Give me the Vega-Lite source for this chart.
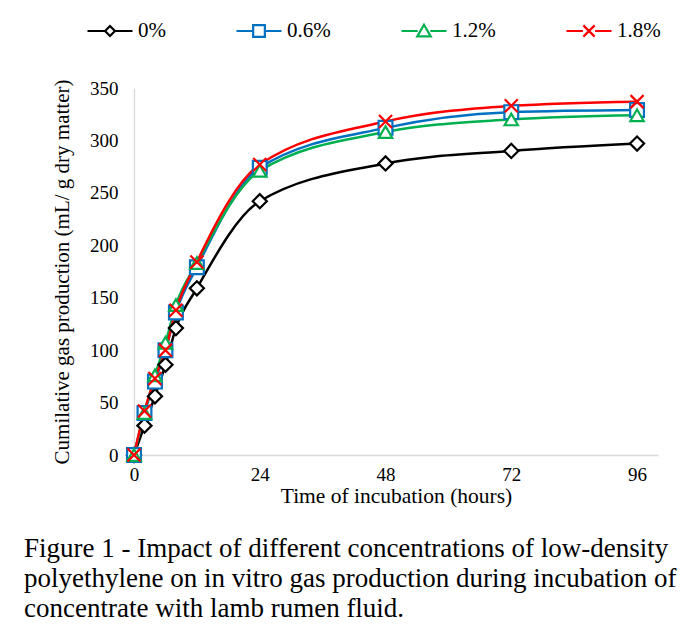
{
  "$schema": "https://vega.github.io/schema/vega-lite/v6.json",
  "width": 524,
  "height": 367,
  "autosize": {"type": "none"},
  "padding": {"left": 134, "top": 88, "right": 39, "bottom": 172},
  "background": "white",
  "config": {
    "font": "Liberation Serif",
    "view": {"stroke": null},
    "axis": {"labelFont": "Liberation Serif", "titleFont": "Liberation Serif", "labelColor": "#000", "titleColor": "#000", "titleFontWeight": "normal", "grid": false, "ticks": false, "domainColor": "#D9D9D9", "domainWidth": 1.3}
  },
  "title": {
    "text": ["Figure 1 - Impact of different concentrations of low-density", "polyethylene on in vitro gas production during incubation of", "concentrate with lamb rumen fluid."],
    "orient": "bottom",
    "anchor": "start",
    "frame": "bounds",
    "font": "Liberation Serif",
    "fontSize": 27,
    "fontWeight": "normal",
    "color": "#000",
    "lineHeight": 30,
    "offset": 29,
    "dx": -27
  },
  "data": {
    "values": [
      {"t": 0, "v": 0, "c": "0%"}, {"t": 2, "v": 28, "c": "0%"}, {"t": 4, "v": 56, "c": "0%"}, {"t": 6, "v": 86, "c": "0%"}, {"t": 8, "v": 121, "c": "0%"}, {"t": 12, "v": 159, "c": "0%"}, {"t": 24, "v": 242, "c": "0%"}, {"t": 48, "v": 278, "c": "0%"}, {"t": 72, "v": 290, "c": "0%"}, {"t": 96, "v": 297, "c": "0%"},
      {"t": 0, "v": 0, "c": "0.6%"}, {"t": 2, "v": 40, "c": "0.6%"}, {"t": 4, "v": 70, "c": "0.6%"}, {"t": 6, "v": 100, "c": "0.6%"}, {"t": 8, "v": 136, "c": "0.6%"}, {"t": 12, "v": 179, "c": "0.6%"}, {"t": 24, "v": 274, "c": "0.6%"}, {"t": 48, "v": 312, "c": "0.6%"}, {"t": 72, "v": 327, "c": "0.6%"}, {"t": 96, "v": 329, "c": "0.6%"},
      {"t": 0, "v": 0, "c": "1.2%"}, {"t": 2, "v": 40, "c": "1.2%"}, {"t": 4, "v": 76, "c": "1.2%"}, {"t": 6, "v": 107, "c": "1.2%"}, {"t": 8, "v": 143, "c": "1.2%"}, {"t": 12, "v": 183, "c": "1.2%"}, {"t": 24, "v": 271, "c": "1.2%"}, {"t": 48, "v": 308, "c": "1.2%"}, {"t": 72, "v": 320, "c": "1.2%"}, {"t": 96, "v": 324, "c": "1.2%"},
      {"t": 0, "v": 0, "c": "1.8%"}, {"t": 2, "v": 42, "c": "1.8%"}, {"t": 4, "v": 73, "c": "1.8%"}, {"t": 6, "v": 100, "c": "1.8%"}, {"t": 8, "v": 138, "c": "1.8%"}, {"t": 12, "v": 184, "c": "1.8%"}, {"t": 24, "v": 277, "c": "1.8%"}, {"t": 48, "v": 318, "c": "1.8%"}, {"t": 72, "v": 333, "c": "1.8%"}, {"t": 96, "v": 337, "c": "1.8%"}
    ]
  },
  "encoding": {
    "x": {"field": "t", "type": "quantitative", "scale": {"domain": [0, 100], "nice": false},
      "axis": {"values": [0, 24, 48, 72, 96], "title": "Time of incubation (hours)", "labelFontSize": 19, "titleFontSize": 21.5, "labelPadding": 10, "titleY": 41, "titleBaseline": "middle", "labelFlush": false}},
    "y": {"field": "v", "type": "quantitative", "scale": {"domain": [0, 350], "nice": false},
      "axis": {"values": [0, 50, 100, 150, 200, 250, 300, 350], "title": "Cumilative gas production (mL/ g dry matter)", "labelFontSize": 19, "titleFontSize": 21, "labelPadding": 16, "titleX": -72, "titleBaseline": "middle"}}
  },
  "layer": [
    {"mark": {"type": "line", "interpolate": "monotone", "strokeWidth": 2.5},
      "encoding": {
        "color": {"field": "c", "type": "nominal", "legend": null,
          "scale": {"domain": ["0%", "0.6%", "1.2%", "1.8%"], "range": ["#000000", "#0070C0", "#00B050", "#FF0000"]}}
      }},
    {"mark": {"type": "point", "filled": false, "fill": "white", "fillOpacity": 1, "strokeWidth": 2.2, "opacity": 1},
      "encoding": {
        "color": {"field": "c", "type": "nominal", "legend": null,
          "scale": {"domain": ["0%", "0.6%", "1.2%", "1.8%"], "range": ["#000000", "#0070C0", "#00B050", "#FF0000"]}},
        "shape": {"field": "c", "type": "nominal", "legend": null,
          "scale": {"domain": ["0%", "0.6%", "1.2%", "1.8%"], "range": ["diamond", "square", "triangle-up", "M-1,-1L1,1M1,-1L-1,1"]}},
        "size": {"field": "c", "type": "nominal", "legend": null,
          "scale": {"domain": ["0%", "0.6%", "1.2%", "1.8%"], "range": [200, 170, 230, 470]}}
      }},
    {"transform": [{"filter": "false"}],
      "mark": {"type": "point", "filled": false, "strokeWidth": 2.2, "opacity": 1, "size": 2025},
      "encoding": {
        "color": {"field": "c", "type": "nominal",
          "scale": {"domain": ["0%", "0.6%", "1.2%", "1.8%"], "range": ["#000000", "#0070C0", "#00B050", "#FF0000"]},
          "legend": {
            "orient": "none", "legendX": -48, "legendY": -81, "direction": "horizontal", "columns": 4, "title": null,
            "labelFont": "Liberation Serif", "labelFontSize": 21, "labelColor": "#000", "labelOffset": 4, "columnPadding": 66,
            "symbolSize": 2025, "symbolStrokeWidth": 2.2, "symbolFillColor": "white", "gridAlign": "none"
          }},
        "shape": {"field": "c", "type": "nominal", "legend": null,
          "scale": {"domain": ["0%", "0.6%", "1.2%", "1.8%"], "range": [
            "M-1,0H-0.22M0.22,0H1M0,-0.22L0.22,0L0,0.22L-0.22,0Z",
            "M-1,0H-0.26M0.26,0H1M-0.26,-0.26H0.26V0.26H-0.26Z",
            "M-1,0H-0.28M0.28,0H1M0,-0.28L0.3,0.24H-0.3Z",
            "M-1,0H-0.27M0.27,0H1M-0.25,-0.25L0.25,0.25M0.25,-0.25L-0.25,0.25"]}}
      }}
  ],
  "resolve": {"scale": {"shape": "independent", "color": "independent"}, "legend": {"color": "independent"}}
}
